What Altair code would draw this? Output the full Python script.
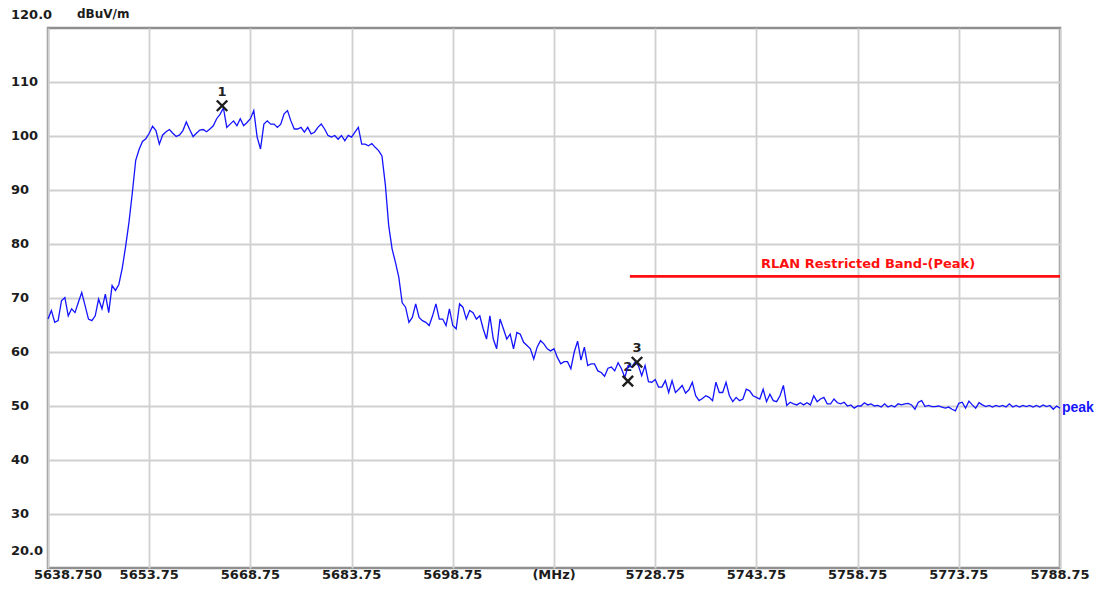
import altair as alt
import numpy as np
import pandas as pd

# ---------------- data ----------------
start_mhz = 5638.75
stop_mhz = 5788.75

# peak trace (dBuV/m) on a 0.5 MHz sweep grid
level_dbuv = [
    66.1, 67.7, 65.5, 65.8, 69.5, 70.1, 66.7, 68.0, 67.3, 69.2,
    71.0, 68.6, 66.1, 65.8, 66.7, 69.8, 68.0, 70.7, 67.3, 72.3,
    71.4, 72.5, 75.5, 79.5, 84.0, 89.5, 95.5, 97.5, 99.0, 99.5,
    100.5, 101.8, 101.0, 98.5, 100.2, 100.8, 101.2, 100.5, 99.9, 100.2,
    101.0, 102.6, 101.2, 99.9, 100.5, 101.1, 101.2, 100.8, 101.3, 101.9,
    103.2, 104.0, 105.2, 101.6, 102.2, 102.8, 101.9, 103.2, 101.9, 102.5,
    103.2, 104.7, 99.8, 97.6, 102.2, 102.8, 102.2, 102.2, 101.6, 102.2,
    104.1, 104.7, 102.8, 101.3, 101.3, 101.6, 100.7, 101.6, 100.4, 100.7,
    101.6, 102.2, 101.3, 100.1, 99.8, 100.1, 99.4, 100.1, 99.1, 100.1,
    99.8, 100.7, 101.6, 98.5, 98.5, 98.2, 98.6, 97.9, 97.3, 96.3,
    91.0, 83.4, 79.1, 76.6, 73.8, 69.1, 68.3, 65.5, 66.4, 68.9,
    66.4, 65.8, 65.5, 64.9, 66.7, 68.9, 66.1, 66.1, 64.9, 68.0,
    64.9, 64.3, 68.9, 68.3, 66.1, 67.7, 67.3, 66.1, 66.7, 64.3,
    62.4, 66.7, 62.4, 60.6, 66.1, 64.3, 62.4, 63.3, 60.6, 63.6,
    63.3, 61.8, 61.2, 60.6, 58.7, 60.9, 62.1, 61.5, 60.6, 60.2,
    60.6, 59.0, 57.8, 58.2, 58.2, 56.9, 60.0, 62.0, 58.5, 60.9,
    57.5, 57.8, 57.8, 56.5, 56.2, 55.5, 57.0, 57.2, 56.5, 58.0,
    56.9, 55.3, 57.5, 57.2, 58.1, 57.5, 55.6, 57.5, 54.5, 54.4,
    54.9, 53.5, 53.5, 54.7, 52.5, 54.7, 52.5, 53.1, 53.8, 52.4,
    53.0, 54.4, 51.9, 51.0, 51.4, 51.9, 51.6, 51.0, 54.4, 52.5,
    52.5, 54.4, 51.9, 50.8, 51.6, 51.0, 51.3, 53.1, 52.8, 51.9,
    51.6, 51.3, 53.1, 50.8, 52.2, 51.0, 50.8, 51.9, 53.8, 50.1,
    50.7, 50.4, 50.2, 50.6, 50.2, 50.6, 50.2, 51.9, 50.8, 51.3,
    51.6, 50.4, 50.4, 51.3, 50.6, 50.4, 50.7, 50.0, 50.2, 49.6,
    50.0, 50.0, 50.6, 50.2, 50.4, 50.0, 50.1, 49.8, 50.4, 49.8,
    50.1, 49.8, 50.4, 50.2, 50.4, 50.5, 50.2, 49.4, 50.7, 51.0,
    49.9, 50.1, 49.9, 49.9, 50.0, 49.8, 49.6, 49.8, 49.4, 49.1,
    50.5, 50.7, 49.6, 50.9, 50.2, 49.6, 50.6, 50.2, 49.9, 50.1,
    49.8, 50.1, 49.9, 50.1, 49.8, 50.4, 49.8, 50.1, 49.8, 50.1,
    49.9, 50.1, 49.8, 50.1, 49.8, 50.2, 49.9, 50.1, 49.4, 50.0,
    49.6,
]
# analyzer sweep points (uniform grid from start to stop)
freq_mhz = np.linspace(start_mhz, stop_mhz, len(level_dbuv))

# limit line
limit_start = 5725.0
limit_end = 5788.75
limit_level = 74.0
limit_label = "RLAN Restricted Band-(Peak)"
limit_label_freq = 5760.3

# markers
marker_freq = [5664.55, 5724.7, 5726.05]
marker_level = [105.6, 54.6, 58.1]
marker_label = ["1", "2", "3"]

trace_name = "peak"
unit_label = "dBuV/m"

# axes
x_tick_values = [5638.75, 5653.75, 5668.75, 5683.75, 5698.75, 5713.75,
                 5728.75, 5743.75, 5758.75, 5773.75, 5788.75]
x_tick_labels = ["5638.750", "5653.75", "5668.75", "5683.75", "5698.75", "(MHz)",
                 "5728.75", "5743.75", "5758.75", "5773.75", "5788.75"]
y_tick_values = [30, 40, 50, 60, 70, 80, 90, 100, 110]
y_tick_labels = ["30", "40", "50", "60", "70", "80", "90", "100", "110"]
y_top_value, y_top_label = 120, "120.0"
y_bottom_value, y_bottom_label = 20, "20.0"

# ---------------- styling ----------------
FONT = "DejaVu Sans"
W, H = 1012, 540
BLUE = "#1414ff"
RED = "#ff1010"
INK = "#1c1c1c"

xs = alt.Scale(domain=[start_mhz, stop_mhz], nice=False, zero=False)
ys = alt.Scale(domain=[20, 120], nice=False, zero=False)
x_axis = alt.Axis(values=x_tick_values, grid=True, labels=False, ticks=False,
                  domain=False, title=None, gridColor="#d0d0d0", gridWidth=1.8)
y_axis = alt.Axis(values=y_tick_values, grid=True, labels=False, ticks=False,
                  domain=False, title=None, gridColor="#d0d0d0", gridWidth=1.8)

trace_df = pd.DataFrame({"f": freq_mhz, "v": level_dbuv})
limit_df = pd.DataFrame({"f": [limit_start], "f2": [limit_end], "v": [limit_level]})
limit_text_df = pd.DataFrame({"f": [limit_label_freq], "v": [limit_level], "t": [limit_label]})
marker_df = pd.DataFrame({"f": marker_freq, "v": marker_level, "t": marker_label})
peak_df = pd.DataFrame({"f": [stop_mhz], "v": [level_dbuv[-1]], "t": [trace_name]})
xlab_df = pd.DataFrame({"f": x_tick_values[1:], "t": x_tick_labels[1:]})
xlab0_df = pd.DataFrame({"f": x_tick_values[:1], "t": x_tick_labels[:1]})
ylab_df = pd.DataFrame({"v": y_tick_values, "t": y_tick_labels})
ytop_df = pd.DataFrame({"v": [y_top_value], "t": [y_top_label]})
ybot_df = pd.DataFrame({"v": [y_bottom_value], "t": [y_bottom_label]})
unit_df = pd.DataFrame({"t": [unit_label]})

X = alt.X("f:Q", scale=xs, axis=x_axis)
Y = alt.Y("v:Q", scale=ys, axis=y_axis)

limit_line = alt.Chart(limit_df).mark_rule(color=RED, strokeWidth=2.6).encode(
    x=X, x2="f2:Q", y=Y)
limit_text = alt.Chart(limit_text_df).mark_text(
    color=RED, font=FONT, fontSize=13, fontWeight="bold", dy=-12, baseline="middle"
).encode(x=X, y=Y, text="t:N")

marker_text = alt.Chart(marker_df).mark_text(
    color="#222222", font=FONT, fontSize=13, fontWeight="bold", dy=-14, baseline="middle"
).encode(x=X, y=Y, text="t:N")

trace = alt.Chart(trace_df).mark_line(color=BLUE, strokeWidth=1.3, interpolate="linear").encode(
    x=X, y=Y)

markers = alt.Chart(marker_df).mark_point(
    shape="M-1,-1L1,1M1,-1L-1,1", filled=False, stroke="#1e1e1e", strokeWidth=2.4,
    size=110, opacity=1
).encode(x=X, y=Y)

peak_text = alt.Chart(peak_df).mark_text(
    color=BLUE, font="Liberation Sans", fontSize=14, fontWeight="bold", align="left",
    dx=2, baseline="middle"
).encode(x=X, y=Y, text="t:N")

txt = dict(font=FONT, fontSize=13, fontWeight="bold", color=INK)
xlabels = alt.Chart(xlab_df).mark_text(baseline="middle", **txt).encode(
    x=X, y=alt.value(H + 7), text="t:N")
xlabel0 = alt.Chart(xlab0_df).mark_text(baseline="middle", dx=20, **txt).encode(
    x=X, y=alt.value(H + 7), text="t:N")
ylabels = alt.Chart(ylab_df).mark_text(align="left", baseline="middle", **txt).encode(
    y=Y, x=alt.value(-37), text="t:N")
ytop = alt.Chart(ytop_df).mark_text(align="left", baseline="middle", dy=-13, **txt).encode(
    y=Y, x=alt.value(-37), text="t:N")
ybot = alt.Chart(ybot_df).mark_text(align="left", baseline="middle", dy=-17, **txt).encode(
    y=Y, x=alt.value(-37), text="t:N")
unit = alt.Chart(unit_df).mark_text(align="left", baseline="middle", font=FONT, fontSize=12,
                                    fontWeight="bold", color=INK).encode(
    x=alt.value(29), y=alt.value(-14), text="t:N")

chart = alt.layer(
    limit_line, limit_text, marker_text, trace, markers, peak_text,
    xlabels, xlabel0, ylabels, ytop, ybot, unit
).properties(
    width=W, height=H,
    autosize=alt.AutoSizeParams(type="none"),
    padding={"left": 40, "top": 20, "right": 34, "bottom": 13},
    background="white",
).configure_view(stroke="#8f8f8f", strokeWidth=2.5)

chart.save("out.html", embed_options={"renderer": "svg", "actions": False})
